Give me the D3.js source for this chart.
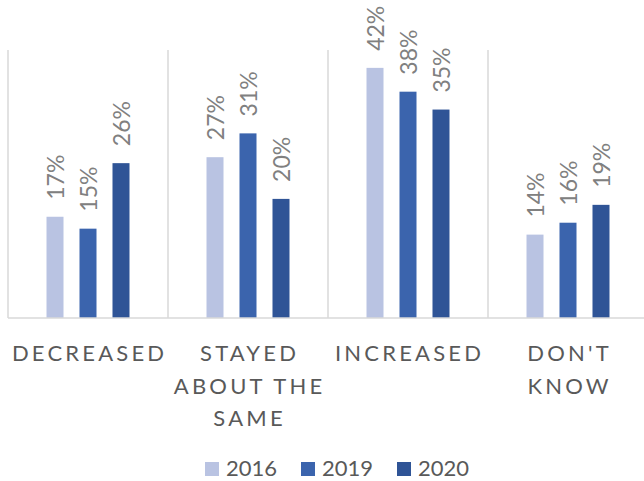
<!DOCTYPE html>
<html>
<head>
<meta charset="utf-8">
<script src="https://cdn.jsdelivr.net/npm/d3@7"></script>
<style>
  html, body { margin: 0; padding: 0; background: #ffffff; }
  svg { display: block; }
  text { font-family: Lato, "Open Sans", sans-serif; }
</style>
</head>
<body>
<svg id="chart" width="644" height="481"></svg>
<script>
// Categories (wrapped lines for the axis labels)
const categories = ["DECREASED", "STAYED ABOUT THE SAME", "INCREASED", "DON'T KNOW"];
const categoryLines = [["DECREASED"], ["STAYED", "ABOUT THE", "SAME"], ["INCREASED"], ["DON'T", "KNOW"]];

// Series
const seriesNames = ["2016", "2019", "2020"];
const values2016 = [17, 27, 42, 14];
const values2019 = [15, 31, 38, 16];
const values2020 = [26, 20, 35, 19];
const seriesColors = ["#b9c3e2", "#3b64ad", "#2f5496"];

const seriesValues = [values2016, values2019, values2020];

const svg = d3.select("#chart");

const plotLeft = 8, plotRight = 648, plotTop = 50, plotBottom = 318;

const x = d3.scaleBand().domain(categories).range([plotLeft, plotRight]).padding(0);
const xInner = d3.scaleBand().domain(seriesNames)
  .range([0, x.bandwidth()])
  .paddingInner(16 / 33)
  .paddingOuter(1.167);
const y = d3.scaleLinear().domain([0, 45]).range([plotBottom, plotTop]);

// Category separator lines
const boundaries = categories.map(c => x(c)).concat([x(categories[categories.length - 1]) + x.bandwidth()]);
svg.append("g").selectAll("line").data(boundaries).join("line")
  .attr("x1", d => d).attr("x2", d => d)
  .attr("y1", y(45)).attr("y2", y(0))
  .attr("stroke", "#d9d9d9").attr("stroke-width", 1.5);

// Bars
const rows = [];
categories.forEach((c, ci) => {
  seriesNames.forEach((s, si) => {
    rows.push({ cat: c, series: s, value: seriesValues[si][ci], color: seriesColors[si] });
  });
});

svg.append("g").selectAll("rect").data(rows).join("rect")
  .attr("x", d => x(d.cat) + xInner(d.series))
  .attr("width", xInner.bandwidth())
  .attr("y", d => y(d.value))
  .attr("height", d => y(0) - y(d.value))
  .attr("fill", d => d.color);

// Baseline
svg.append("line")
  .attr("x1", plotLeft).attr("x2", plotRight)
  .attr("y1", y(0)).attr("y2", y(0))
  .attr("stroke", "#d9d9d9").attr("stroke-width", 1.5);

// Rotated value labels
svg.append("g").selectAll("text").data(rows).join("text")
  .attr("transform", d => {
    const cx = x(d.cat) + xInner(d.series) + xInner.bandwidth() / 2 + 1;
    return `translate(${cx},${y(d.value) - 17}) rotate(-90)`;
  })
  .attr("dy", "0.36em")
  .attr("font-size", 23)
  .attr("fill", "#808080")
  .text(d => d.value + "%");

// Category axis labels
const axisG = svg.append("g");
categories.forEach((c, ci) => {
  const t = axisG.append("text")
    .attr("x", x(c) + x.bandwidth() / 2)
    .attr("y", 361)
    .attr("text-anchor", "middle")
    .attr("font-size", 22)
    .attr("letter-spacing", "3.2px")
    .attr("fill", "#595959");
  categoryLines[ci].forEach((line, li) => {
    t.append("tspan")
      .attr("x", x(c) + x.bandwidth() / 2 + 1.6)
      .attr("dy", li === 0 ? 0 : 32.5)
      .text(line);
  });
});

// Legend
const legendStart = 205, legendStep = 96;
const legend = svg.append("g").selectAll("g").data(seriesNames).join("g")
  .attr("transform", (d, i) => `translate(${legendStart + i * legendStep},0)`);
legend.append("rect")
  .attr("x", 0).attr("y", 462).attr("width", 14).attr("height", 14)
  .attr("fill", (d, i) => seriesColors[i]);
legend.append("text")
  .attr("x", 21).attr("y", 476)
  .attr("font-size", 22)
  .attr("fill", "#595959")
  .text(d => d);
</script>
</body>
</html>
